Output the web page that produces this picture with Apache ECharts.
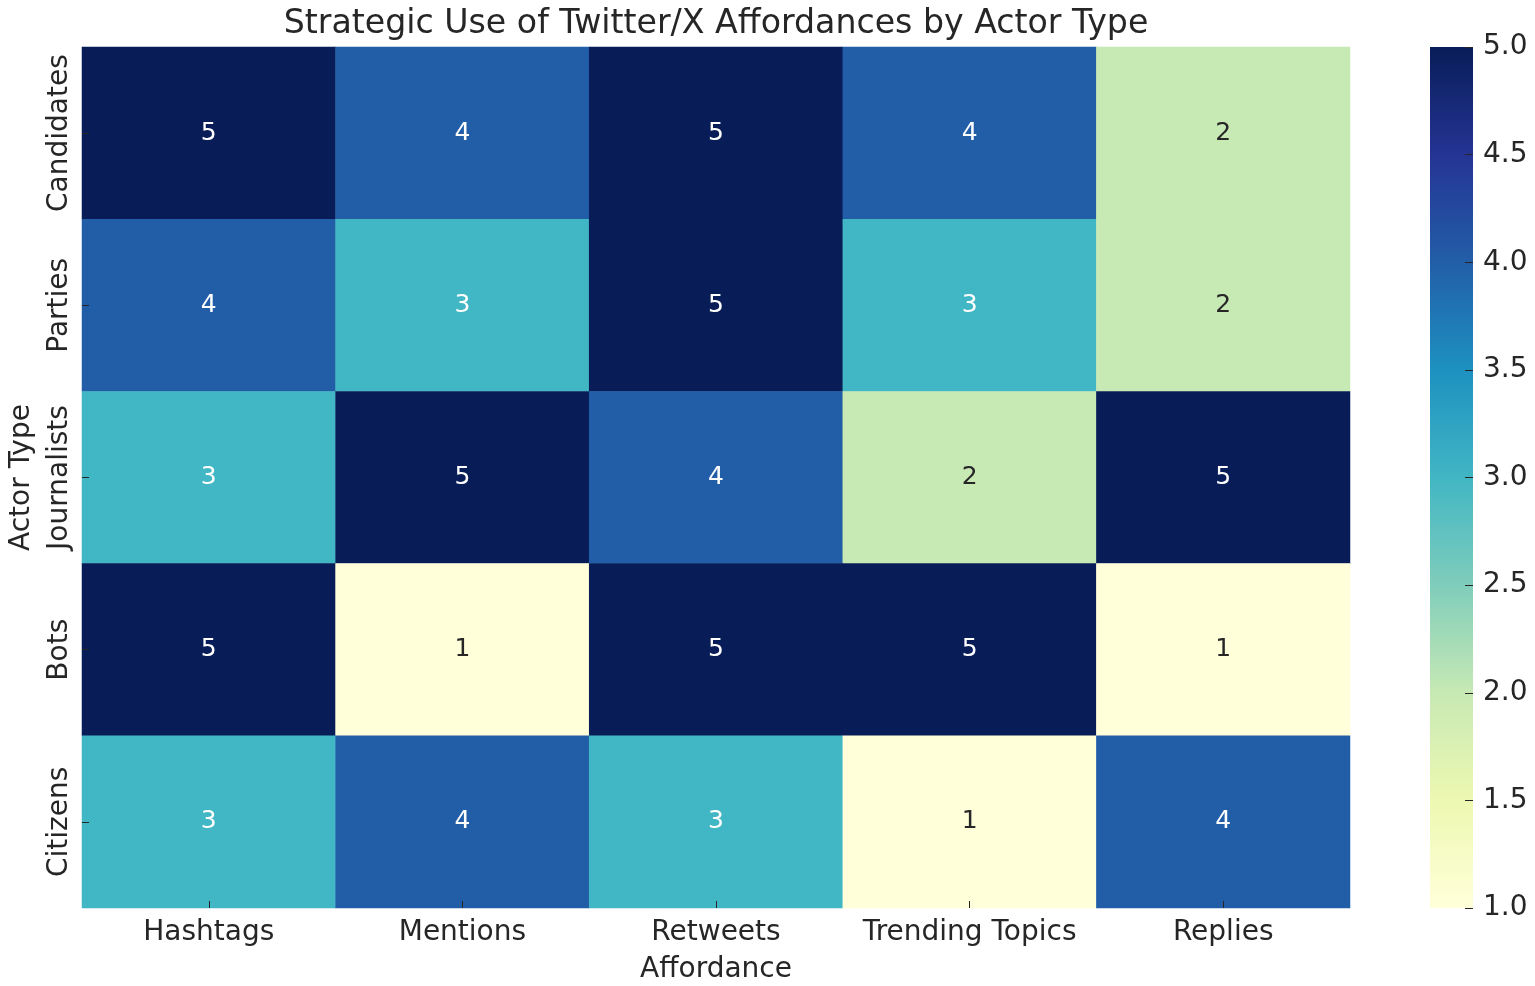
<!DOCTYPE html>
<html>
<head>
<meta charset="utf-8">
<script src="https://cdn.jsdelivr.net/npm/echarts@6/dist/echarts.min.js"></script>
<style>html,body{margin:0;padding:0;background:#fff;}#c{width:1535px;height:986px;}</style>
</head>
<body>
<div id="c"></div>
<script>
const affordances = ['Hashtags', 'Mentions', 'Retweets', 'Trending Topics', 'Replies'];
const actors = ['Candidates', 'Parties', 'Journalists', 'Bots', 'Citizens'];
const candidates = [5, 4, 5, 4, 2];
const parties = [4, 3, 5, 3, 2];
const journalists = [3, 5, 4, 2, 5];
const bots = [5, 1, 5, 5, 1];
const citizens = [3, 4, 3, 1, 4];
const colorbarTicks = [1.0, 1.5, 2.0, 2.5, 3.0, 3.5, 4.0, 4.5, 5.0];
const ylgnbu = ['#ffffd9', '#edf8b1', '#c7e9b4', '#7fcdbb', '#41b6c4', '#1d91c0', '#225ea8', '#253494', '#081d58'];

const rows = [candidates, parties, journalists, bots, citizens];
const vmin = 1, vmax = 5;
const cells = [];
rows.forEach((row, yi) => {
  row.forEach((v, xi) => {
    cells.push({ value: [xi, yi, v], label: { color: (v - vmin) / (vmax - vmin) >= 0.45 ? '#ffffff' : '#262626' } });
  });
});

const font = 'DejaVu Sans';
const textColor = '#262626';
const chart = echarts.init(document.getElementById('c'));
const gradStops = ylgnbu.slice().reverse().map((c, i) => ({ offset: i / (ylgnbu.length - 1), color: c }));

chart.setOption({
  animation: false,
  backgroundColor: '#ffffff',
  textStyle: { fontFamily: font },
  title: {
    text: 'Strategic Use of Twitter/X Affordances by Actor Type',
    left: 711, top: 3, textAlign: 'center',
    textStyle: { fontFamily: font, fontSize: 33.2, fontWeight: 'normal', color: textColor }
  },
  grid: [
    { left: 82, top: 47, width: 1268, height: 861, containLabel: false, outerBoundsMode: 'none' },
    { left: 1430, top: 47, width: 43, height: 861, containLabel: false, outerBoundsMode: 'none' }
  ],
  xAxis: [
    {
      type: 'category', data: affordances, gridIndex: 0, z: 10,
      name: 'Affordance', nameLocation: 'middle', nameGap: 48,
      nameTextStyle: { fontFamily: font, fontSize: 28, color: textColor },
      axisLine: { show: false },
      axisTick: { show: true, inside: true, length: 7, alignWithLabel: true, interval: 0, lineStyle: { color: textColor } },
      axisLabel: { fontFamily: font, fontSize: 28, color: textColor, margin: 11, interval: 0 },
      splitLine: { show: false }
    },
    { type: 'category', data: [''], gridIndex: 1, show: false }
  ],
  yAxis: [
    {
      type: 'category', data: actors, gridIndex: 0, inverse: true, z: 10,
      name: 'Actor Type', nameLocation: 'middle', nameGap: 46, nameRotate: 90,
      nameTextStyle: { fontFamily: font, fontSize: 28, color: textColor },
      axisLine: { show: false },
      axisTick: { show: true, inside: true, length: 7, alignWithLabel: true, interval: 0, lineStyle: { color: textColor } },
      axisLabel: { fontFamily: font, fontSize: 28, color: textColor, rotate: 90, margin: 8, interval: 0 },
      splitLine: { show: false }
    },
    {
      type: 'value', gridIndex: 1, position: 'right', min: 1, max: 5, interval: 0.5, z: 10,
      axisLine: { show: false },
      axisTick: { show: true, inside: true, length: 8, lineStyle: { color: textColor } },
      axisLabel: { fontFamily: font, fontSize: 28, color: textColor, margin: 10,
        formatter: v => colorbarTicks.includes(v) ? v.toFixed(1) : '' },
      splitLine: { show: false }
    }
  ],
  visualMap: {
    show: false, type: 'continuous', min: vmin, max: vmax, seriesIndex: 0, dimension: 2,
    inRange: { color: ylgnbu }
  },
  series: [
    {
      type: 'heatmap', xAxisIndex: 0, yAxisIndex: 0, data: cells,
      label: { show: true, fontFamily: font, fontSize: 25, formatter: p => String(p.value[2]) },
      itemStyle: { borderWidth: 0 },
      emphasis: { disabled: true }
    },
    {
      type: 'custom', xAxisIndex: 1, yAxisIndex: 1, data: [[0, vmax, vmin]], z: 1,
      renderItem: (params, api) => {
        const top = api.coord([0, api.value(1)]);
        const bot = api.coord([0, api.value(2)]);
        const w = api.size([1, 0])[0];
        return {
          type: 'rect',
          shape: { x: top[0] - w / 2, y: top[1], width: w, height: bot[1] - top[1] },
          style: { fill: new echarts.graphic.LinearGradient(0, 0, 0, 1, gradStops) }
        };
      }
    }
  ]
});
</script>
</body>
</html>
